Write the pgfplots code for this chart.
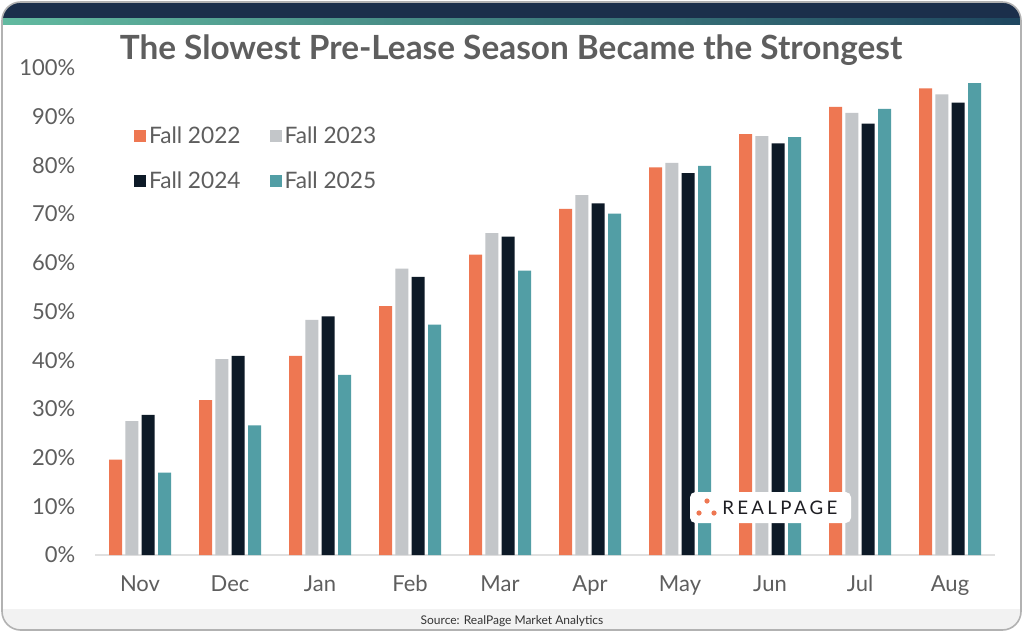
\documentclass[border=0pt]{standalone}
\usepackage{fontspec}
\setmainfont{Lato}
\newfontfamily\logofont{Lato}[LetterSpace=18]
\usepackage{pgfplots}
\pgfplotsset{compat=1.18}
\definecolor{corange}{HTML}{EE7752}
\definecolor{cgray}{HTML}{C3C6C9}
\definecolor{cnavy}{HTML}{0D1A27}
\definecolor{cteal}{HTML}{529EA5}
\definecolor{ctext}{HTML}{5E5E5E}
\definecolor{band}{HTML}{1B2F4B}
\definecolor{logotext}{HTML}{1E1E23}
\definecolor{stripL}{HTML}{62BAA0}
\definecolor{stripR}{HTML}{1E465F}
\pgfplotsset{sq legend/.style={legend image code/.code={\fill[##1,draw=none] (0pt,-4.5pt) rectangle (9pt,4.5pt);}}}
\begin{document}
\begin{tikzpicture}[x=0.75pt,y=-0.75pt]
\useasboundingbox (0,0) rectangle (1024,633);
\fill[white] (0,0) rectangle (1024,633);
% frame
\begin{scope}
\clip[rounded corners=14pt] (2,2) rectangle (1021,630);
\fill[white] (0,0) rectangle (1024,633);
\fill[band] (0,0) rectangle (1024,18);
\shade[left color=stripL, right color=stripR] (0,18) rectangle (1024,24);
\fill[black!5] (0,609) rectangle (1024,633);
\end{scope}
\draw[black!30, line width=1.2pt, rounded corners=14pt] (2,2) rectangle (1021,630);
\node[font=\fontsize{9pt}{10pt}\selectfont, text=black!80] at (512,621) {Source: RealPage Market Analytics};
\node[font=\fontsize{25pt}{30pt}\selectfont\bfseries, text=ctext] at (511,50) {The Slowest Pre-Lease Season Became the Strongest};
\begin{axis}[
  at={(71.25pt,-416.25pt)}, anchor=south west,
  scale only axis, width=675pt, height=365.25pt,
  ybar=2.5pt, bar width=9.75pt,
  xmin=-0.5, xmax=9.5, ymin=0, ymax=100,
  axis lines=left,
  y axis line style={draw=none},
  x axis line style={draw=black!12, line width=1pt, -},
  xtick=data,
  xticklabels={Nov,Dec,Jan,Feb,Mar,Apr,May,Jun,Jul,Aug},
  ytick={0,10,...,100},
  major tick length=0pt,
  /pgf/number format/assume math mode=true,
  yticklabel={\pgfmathprintnumber{\tick}\%},
  ticklabel style={font=\fontsize{16.5pt}{18pt}\selectfont, text=ctext},
  yticklabel style={xshift=-11.25pt},
  xticklabel style={yshift=-12pt},
  sq legend,
  legend columns=2,
  legend style={draw=none, fill=none, at={(0.039,0.891)}, anchor=north west,
    font=\fontsize{17pt}{19pt}\selectfont, text=ctext,
    /tikz/every even column/.append style={column sep=20pt},
    row sep=16pt},
  clip=false,
]
\addplot[fill=corange, draw=none] coordinates {(0,19.6) (1,31.8) (2,40.9) (3,51.1) (4,61.7) (5,71.1) (6,79.6) (7,86.4) (8,92.0) (9,95.8)};
\addplot[fill=cgray, draw=none] coordinates {(0,27.5) (1,40.2) (2,48.3) (3,58.8) (4,66.1) (5,73.9) (6,80.5) (7,86.0) (8,90.8) (9,94.6)};
\addplot[fill=cnavy, draw=none] coordinates {(0,28.8) (1,40.9) (2,49.0) (3,57.1) (4,65.4) (5,72.2) (6,78.4) (7,84.5) (8,88.6) (9,92.9)};
\addplot[fill=cteal, draw=none] coordinates {(0,16.9) (1,26.6) (2,37.0) (3,47.3) (4,58.4) (5,70.1) (6,79.9) (7,85.8) (8,91.6) (9,96.9)};
\legend{Fall 2022, Fall 2023, Fall 2024, Fall 2025}
\end{axis}
% logo
\fill[white, rounded corners=4pt] (690,492) rectangle (851,523);
\fill[corange] (707,501) circle (2.6);
\fill[corange] (699,513) circle (2.6);
\fill[corange] (714,513) circle (2.6);
\node[anchor=west, inner sep=0pt, text=logotext, font=\logofont\fontsize{14pt}{15pt}\selectfont] at (722,508) {REALPAGE};
\end{tikzpicture}
\end{document}
